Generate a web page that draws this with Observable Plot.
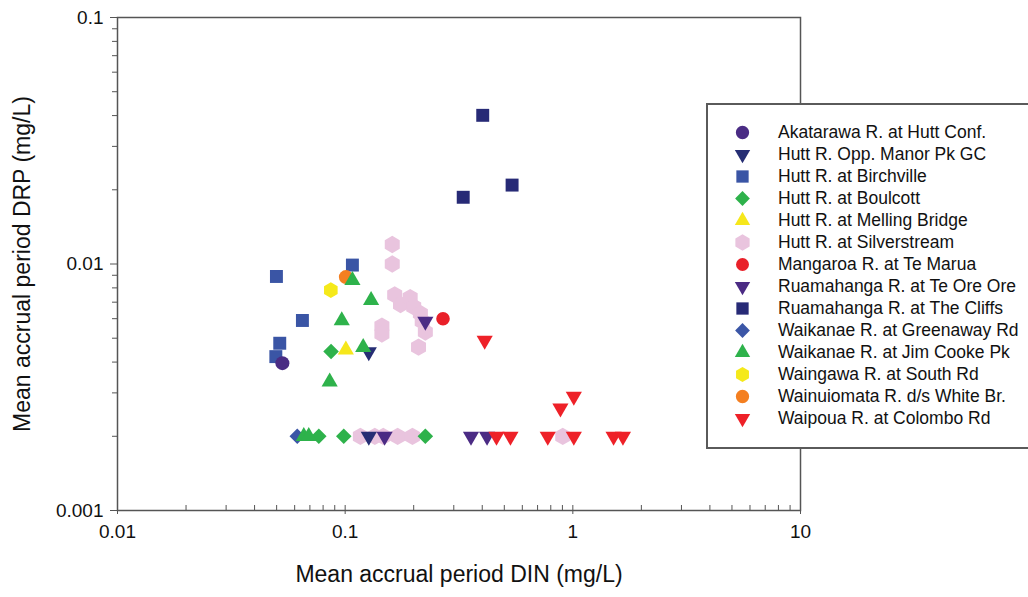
<!DOCTYPE html>
<html>
<head>
<meta charset="utf-8">
<script src="https://cdn.jsdelivr.net/npm/d3@7"></script>
<script src="https://cdn.jsdelivr.net/npm/@observablehq/plot@0.6"></script>
<style>
  html, body { margin: 0; padding: 0; background: #fff; overflow: hidden; }
  #wrap { position: relative; width: 1028px; height: 597px; overflow: hidden; }
  #legend { position: absolute; left: 706px; top: 103px; width: 340px; height: 342px;
            border: 2px solid #5a5a5a; background: #fff; }
</style>
</head>
<body>
<div id="wrap"><div id="chart"></div><div id="legend"></div></div>
<script>
// ---- Data (DIN mg/L, DRP mg/L) ----
const series = [
  "Akatarawa R. at Hutt Conf.",
  "Hutt R. Opp. Manor Pk GC",
  "Hutt R. at Birchville",
  "Hutt R. at Boulcott",
  "Hutt R. at Melling Bridge",
  "Hutt R. at Silverstream",
  "Mangaroa R. at Te Marua",
  "Ruamahanga R. at Te Ore Ore",
  "Ruamahanga R. at The Cliffs",
  "Waikanae R. at Greenaway Rd",
  "Waikanae R. at Jim Cooke Pk",
  "Waingawa R. at South Rd",
  "Wainuiomata R. d/s White Br.",
  "Waipoua R. at Colombo Rd"
];
const akatarawa = [[0.053, 0.00396]];
const huttOppManor = [[0.127, 0.0044], [0.127, 0.002]];
const birchville = [[0.0499, 0.0089], [0.1076, 0.0099], [0.0649, 0.0059], [0.0516, 0.00477], [0.0496, 0.00421]];
const boulcott = [[0.0867, 0.00442], [0.0766, 0.002], [0.0986, 0.002], [0.225, 0.002]];
const melling = [[0.1007, 0.00449]];
const silverstream = [[0.161, 0.012], [0.161, 0.010], [0.165, 0.0075], [0.175, 0.00685], [0.193, 0.0073],
  [0.200, 0.0067], [0.214, 0.0063], [0.218, 0.00585], [0.225, 0.0053], [0.145, 0.0056], [0.145, 0.0052],
  [0.210, 0.0046], [0.1166, 0.002], [0.135, 0.002], [0.147, 0.002], [0.170, 0.002], [0.1975, 0.002], [0.903, 0.002]];
const mangaroa = [[0.269, 0.006]];
const teOreOre = [[0.225, 0.00585], [0.149, 0.002], [0.357, 0.002], [0.42, 0.002]];
const theCliffs = [[0.402, 0.0401], [0.541, 0.0209], [0.330, 0.01865]];
const greenaway = [[0.0616, 0.002]];
const jimCooke = [[0.1076, 0.00858], [0.130, 0.00713], [0.0966, 0.00589], [0.120, 0.00459], [0.0855, 0.00333],
  [0.0658, 0.002], [0.0692, 0.002]];
const waingawa = [[0.0865, 0.00783]];
const wainuiomata = [[0.1007, 0.00885]];
const waipoua = [[0.41, 0.0049], [1.01, 0.0029], [0.882, 0.0026], [0.462, 0.002], [0.532, 0.002],
  [0.776, 0.002], [1.01, 0.002], [1.51, 0.002], [1.66, 0.002]];

const seriesData = [akatarawa, huttOppManor, birchville, boulcott, melling, silverstream, mangaroa,
  teOreOre, theCliffs, greenaway, jimCooke, waingawa, wainuiomata, waipoua];
const colors = ["#4a2c84", "#262e74", "#3a55a5", "#2eb24b", "#f6e71b", "#e9c4de", "#e92029",
  "#4b2b84", "#272a76", "#3b56a6", "#2eb24b", "#f5e91a", "#f47f20", "#ee2128"];
const symbols = ["circle", "triangle", "square", "diamond2", "triangle", "hexagon", "circle",
  "triangle", "square", "diamond2", "triangle", "hexagon", "circle", "triangle"];
const pointsDown = [false, true, false, false, false, false, false, true, false, false, false, false, false, true];
const radii = [7, 6, 7.3, 7, 6, 7.5, 6.8, 6, 7.3, 7, 6, 6.8, 7, 6];

const yMajor = [0.001, 0.01, 0.1];
const yMinor = [0.002,0.003,0.004,0.005,0.006,0.007,0.008,0.009,0.02,0.03,0.04,0.05,0.06,0.07,0.08,0.09];
const xMajor = [0.01, 0.1, 1, 10];
const xMinor = [0.02,0.03,0.04,0.05,0.06,0.07,0.08,0.09,0.2,0.3,0.4,0.5,0.6,0.7,0.8,0.9,2,3,4,5,6,7,8,9];

// ---- Build table ----
const rows = [];
seriesData.forEach((arr, i) => arr.forEach(([din, drp]) => rows.push({
  site: series[i], din, drp, r: radii[i], rot: pointsDown[i] ? 180 : 0
})));

const font = "'Liberation Sans', Arial, sans-serif";
const mT = 17, mB = 87, H = 597;
const innerH = H - mT - mB;

const chart = Plot.plot({
  width: 1028, height: H,
  marginLeft: 117, marginRight: 228, marginTop: mT, marginBottom: mB,
  style: { fontFamily: font, fontSize: "19px", color: "#111", background: "#fff" },
  x: { type: "log", domain: [0.01, 10] },
  y: { type: "log", domain: [0.001, 0.1] },
  color: { domain: series, range: colors },
  symbol: { domain: series, range: symbols },
  r: { type: "identity" },
  marks: [
    Plot.axisY(yMajor, { tickSize: 7, tickPadding: 7, tickFormat: d => String(d), stroke: "#555", label: null, fontSize: 19 }),
    Plot.axisY(yMinor, { tickSize: 5, tickFormat: () => "", stroke: "#555", label: null }),
    Plot.axisX(xMajor, { tickSize: 4, tickPadding: 10, tickFormat: d => String(d), stroke: "#555", label: null, fontSize: 19 }),
    Plot.tickX(xMinor, { x: d => d, insetTop: innerH - 5, stroke: "#555" }),
    Plot.tickX(xMajor, { x: d => d, insetTop: innerH - 5, stroke: "#555" }),
    Plot.frame({ stroke: "#555", strokeWidth: 1.5 }),
    Plot.dot(rows, { x: "din", y: "drp", fill: "site", symbol: "site", r: "r", rotate: "rot" }),
    Plot.text(["Mean accrual period DIN (mg/L)"], { frameAnchor: "bottom", dy: 71, fontSize: 23, fill: "#111", textAnchor: "middle" }),
    Plot.text(["Mean accrual period DRP (mg/L)"], { frameAnchor: "left", dx: -95, rotate: -90, fontSize: 23, fill: "#111", textAnchor: "middle" })
  ]
});
document.getElementById("chart").appendChild(chart);

// ---- Legend ----
const legend = Plot.plot({
  width: 340, height: 342,
  margin: 0,
  style: { fontFamily: font, fontSize: "17.5px", color: "#111", background: "#fff" },
  x: { domain: [0, 1], range: [34, 69.5], axis: null },
  y: { type: "point", domain: series, range: [23.3, 317.7], padding: 0, axis: null },
  color: { domain: series, range: colors },
  symbol: { domain: series, range: symbols },
  r: { type: "identity" },
  marks: [
    Plot.dot(series, { x: 0, y: d => d, fill: d => d, symbol: d => d,
      r: (d, i) => radii[i] * 0.95, rotate: (d, i) => pointsDown[i] ? 180 : 0 }),
    Plot.text(series, { x: 1, y: d => d, text: d => d, textAnchor: "start", fill: "#111", fontSize: 17.5 })
  ]
});
document.getElementById("legend").appendChild(legend);
</script>
</body>
</html>
